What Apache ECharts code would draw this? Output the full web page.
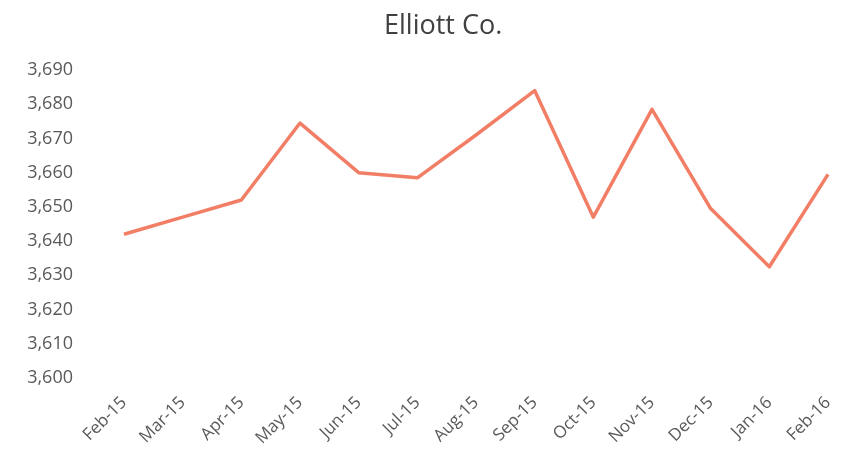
<!DOCTYPE html>
<html>
<head>
<meta charset="utf-8">
<script src="https://cdn.jsdelivr.net/npm/echarts@6/dist/echarts.min.js"></script>
<style>
  html, body { margin: 0; padding: 0; background: #ffffff; }
  #chart { width: 846px; height: 466px; }
</style>
</head>
<body>
<div id="chart"></div>
<script>
// Monthly values for Elliott Co.
const months = ['Feb-15', 'Mar-15', 'Apr-15', 'May-15', 'Jun-15', 'Jul-15', 'Aug-15',
                'Sep-15', 'Oct-15', 'Nov-15', 'Dec-15', 'Jan-16', 'Feb-16'];
const values = [3642, 3647, 3652, 3674.5, 3660, 3658.5, 3671, 3684, 3647, 3678.5, 3649.5, 3632.5, 3659.5];
const yMin = 3600;
const yMax = 3690;
const yStep = 10;

const chart = echarts.init(document.getElementById('chart'));
chart.setOption({
  animation: false,
  backgroundColor: '#ffffff',
  title: {
    text: 'Elliott Co.',
    left: 379,
    top: 8,
    textStyle: { fontFamily: 'Open Sans', fontSize: 27, fontWeight: 'normal', color: '#404040' }
  },
  grid: { left: 124, right: 18, top: 70, bottom: 88 },
  xAxis: {
    type: 'category',
    data: months,
    boundaryGap: false,
    axisLine: { show: false },
    axisTick: { show: false },
    axisLabel: {
      rotate: 45,
      margin: 22,
      fontFamily: 'Open Sans',
      fontSize: 17,
      color: '#595959'
    }
  },
  yAxis: {
    type: 'value',
    min: yMin,
    max: yMax,
    interval: yStep,
    splitLine: { show: false },
    axisLine: { show: false },
    axisTick: { show: false },
    axisLabel: {
      margin: 51,
      fontFamily: 'Open Sans',
      fontSize: 18,
      color: '#595959',
      formatter: v => v.toLocaleString('en-US')
    }
  },
  series: [{
    type: 'line',
    data: values,
    symbol: 'none',
    lineStyle: { color: '#F27E66', width: 3.5, join: 'round' }
  }]
});
</script>
</body>
</html>
